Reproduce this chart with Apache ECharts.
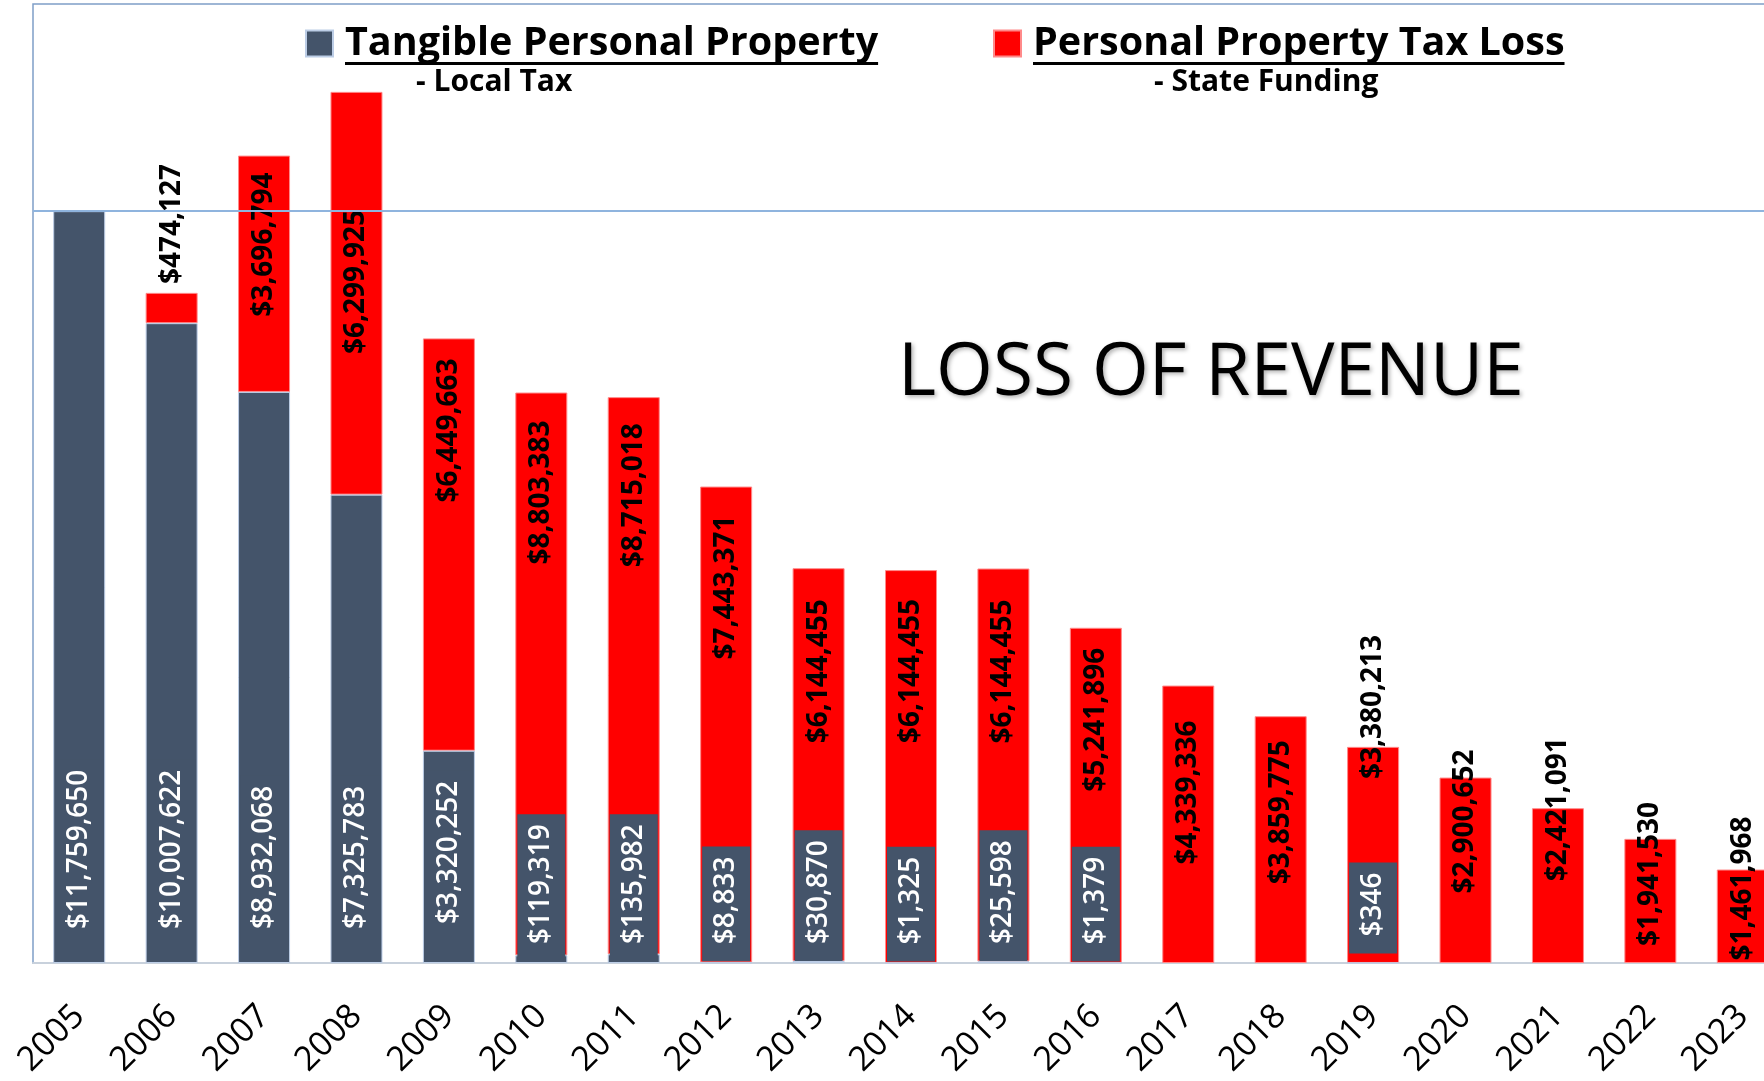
<!DOCTYPE html>
<html>
<head>
<meta charset="utf-8">
<title>Loss of Revenue</title>
<script src="https://cdn.jsdelivr.net/npm/echarts@6/dist/echarts.min.js"></script>
<style>
  html, body { margin: 0; padding: 0; background: #fff; }
  #chart { width: 1764px; height: 1081px; }
</style>
</head>
<body>
<div id="chart"></div>
<script>
const years = ['2005', '2006', '2007', '2008', '2009', '2010', '2011', '2012', '2013', '2014',
    '2015', '2016', '2017', '2018', '2019', '2020', '2021', '2022', '2023'];

// Tangible Personal Property - Local Tax
const localTax = [11759650, 10007622, 8932068, 7325783, 3320252, 119319, 135982, 8833, 30870, 1325,
    25598, 1379, null, null, 346, null, null, null, null];

// Personal Property Tax Loss - State Funding
const stateFunding = [null, 474127, 3696794, 6299925, 6449663, 8803383, 8715018, 7443371, 6144455, 6144455,
    6144455, 5241896, 4339336, 3859775, 3380213, 2900652, 2421091, 1941530, 1461968];

// gap under each grey label box, px above the axis
const localLabelGap = [17, 17, 17, 17, 22, 2, 2, 2, 2, 2, 2, 2, 2, 2, 10, 2, 2, 2, 2];
// where the top end of each red label sits, px below the top of its bar (negative = above)
const stateLabelOffset = [0, -129, 17, 118, 20, 28, 26, 29, 31, 29, 31, 20, 35, 24, -112, -28, -71, -37, -53];

const localName = 'Tangible Personal Property';
const stateName = 'Personal Property Tax Loss';
const FONT = '"Open Sans", "Noto Sans", sans-serif';

const chart = echarts.init(document.getElementById('chart'));

function money(v) {
    return '$' + Number(v).toLocaleString('en-US');
}

function measure(text, font) {
    const ctx = document.createElement('canvas').getContext('2d');
    ctx.font = font;
    return ctx.measureText(text).width;
}

// legend entry: bold name, an underline under it, and a smaller line below
function legendFor(name, subtitle, left, subIndent) {
    const w = measure(name, 'bold 39.5px "Open Sans"');
    return {
        data: [name],
        left: left,
        top: 1,
        padding: 0,
        selectedMode: false,
        icon: 'rect',
        itemWidth: 27,
        itemHeight: 26,
        formatter: n => `{sp|}\n{gt|}{t|${n}}\n{gu|}{u|}\n{gs|}{s|${subtitle}}`,
        textStyle: {
            color: '#000',
            fontFamily: FONT,
            rich: {
                sp: { lineHeight: 37 },
                gt: { width: 7, lineHeight: 36 },
                t: { fontSize: 39.5, fontWeight: 'bold', fontFamily: FONT, color: '#000', lineHeight: 36 },
                gu: { width: 7, height: 3, lineHeight: 4 },
                u: { width: w, height: 3, lineHeight: 4, backgroundColor: '#000' },
                gs: { width: subIndent, lineHeight: 33 },
                s: { fontSize: 30, fontWeight: 'bold', fontFamily: FONT, color: '#000', lineHeight: 33 }
            }
        }
    };
}

const option = {
    backgroundColor: '#fff',
    animation: false,
    title: {
        text: 'LOSS OF REVENUE',
        left: 898,
        top: 338,
        padding: 0,
        textStyle: {
            fontFamily: FONT,
            fontSize: 73,
            fontWeight: 'normal',
            color: '#000',
            textShadowColor: 'rgba(0,0,0,0.3)',
            textShadowBlur: 4,
            textShadowOffsetX: 2,
            textShadowOffsetY: 2
        }
    },
    legend: [
        legendFor(localName, '- Local Tax', 305, 78),
        legendFor(stateName, '- State Funding', 993, 128)
    ],
    grid: {
        left: 33,
        right: -25,
        top: 4,
        bottom: 118,
        containLabel: false,
        outerBoundsMode: 'none',
        show: true,
        borderColor: '#7f9fc8',
        borderWidth: 1.5
    },
    xAxis: {
        type: 'category',
        data: years,
        axisTick: { show: false },
        axisLine: { lineStyle: { color: '#c8d1dc', width: 2 } },
        axisLabel: {
            interval: 0,
            rotate: 45,
            margin: 48,
            fontSize: 34,
            fontFamily: FONT,
            color: '#000'
        }
    },
    yAxis: {
        type: 'value',
        min: 0,
        max: 15000000,
        axisLine: { show: false },
        axisTick: { show: false },
        axisLabel: { show: false },
        splitLine: { show: false }
    },
    series: [
        {
            name: localName,
            type: 'bar',
            stack: 'revenue',
            z: 3,
            barWidth: 52,
            data: localTax.map((v, i) => v == null ? null : {
                value: v,
                label: { distance: localLabelGap[i] }
            }),
            itemStyle: { color: '#44546a', borderColor: '#bccde6', borderWidth: 1 },
            label: {
                show: true,
                position: 'insideBottom',
                rotate: 90,
                align: 'left',
                verticalAlign: 'middle',
                color: '#fff',
                fontFamily: FONT,
                fontWeight: 600,
                fontSize: 28,
                backgroundColor: '#44546a',
                padding: [10, 10, 10, 17],
                formatter: p => money(p.value)
            },
            markLine: {
                silent: true,
                symbol: 'none',
                label: { show: false },
                lineStyle: { color: '#8fb4de', width: 2, type: 'solid' },
                data: [{ yAxis: localTax[0] }]
            }
        },
        {
            name: stateName,
            type: 'bar',
            stack: 'revenue',
            barWidth: 52,
            data: stateFunding.map((v, i) => v == null ? null : {
                value: v,
                label: { position: ['50%', stateLabelOffset[i]] }
            }),
            itemStyle: { color: '#ff0000', borderColor: '#ff8a8a', borderWidth: 1 },
            label: {
                show: true,
                rotate: 90,
                align: 'right',
                verticalAlign: 'middle',
                color: '#000',
                fontFamily: FONT,
                fontWeight: 'bold',
                fontSize: 28,
                formatter: p => money(p.value)
            }
        }
    ]
};

chart.setOption(option);

window.addEventListener('resize', () => {
    chart.resize();
});
</script>
</body>
</html>
